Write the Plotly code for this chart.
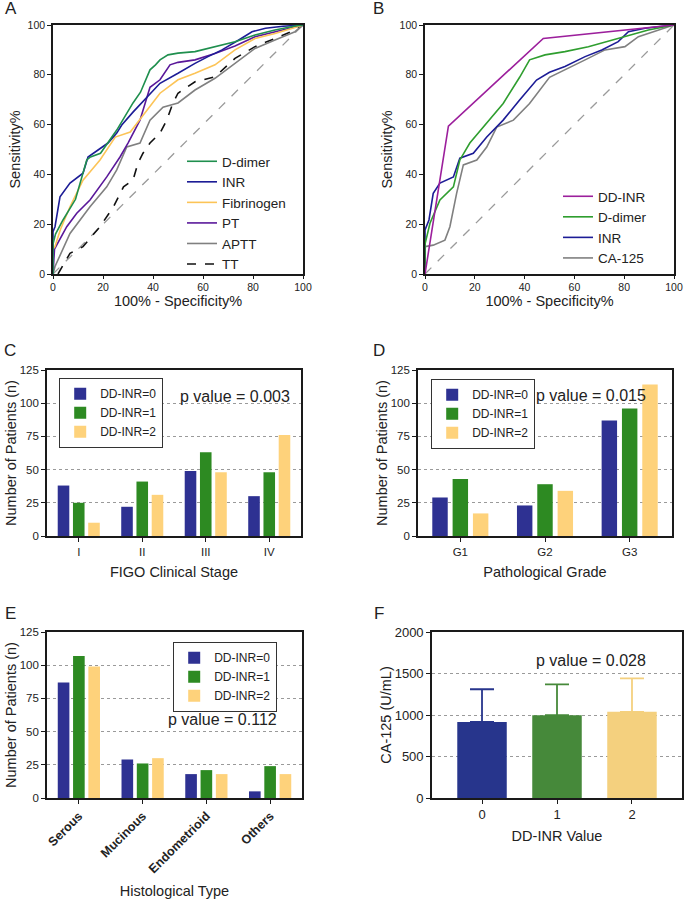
import plotly.graph_objects as go

W, H = 685, 899
FONT = "Arial, Liberation Sans, sans-serif"
TXT = "#222222"

def px(x):
    return x / W

def py(y):
    return 1 - y / H

# ---------------- Panel A: ROC curves ----------------
a_ddimer_x = [0, 0, 1, 4, 9, 13.5, 15, 19, 25.5, 32, 35, 37, 38.8, 41, 42.8, 46, 50, 56.8, 64.8, 72.8, 80.8, 88.8, 96.8, 100]
a_ddimer_y = [0, 12, 16, 21.7, 30, 45.8, 47, 48.5, 57.8, 68.7, 73, 78, 82, 84, 86, 88, 88.7, 89.3, 91.3, 93.3, 96, 98, 99.6, 100]
a_inr_x = [0, 0, 0.8, 2.8, 6.8, 12, 14, 22, 25.5, 27.5, 32, 37.5, 42.8, 50, 56.8, 62, 67.6, 74.3, 79.6, 85, 92, 100]
a_inr_y = [0, 17, 19, 31, 36.5, 40.5, 47, 52.6, 56.6, 59.8, 65, 71, 76.6, 80.6, 84.6, 87.3, 90, 94, 97.3, 98.7, 99.5, 100]
a_fib_x = [0, 0, 0.8, 3, 6.8, 12, 18.8, 24.9, 30.9, 37.5, 42.8, 50, 56.8, 64.8, 72.8, 80.8, 88.8, 96.8, 100]
a_fib_y = [0, 10, 11, 18, 27, 37.7, 45.8, 55, 57, 65.9, 72.6, 78, 80.6, 84, 90, 94.6, 96.6, 99, 100]
a_pt_x = [0, 0.6, 5.5, 9.5, 14.8, 21.5, 26.8, 30, 34.8, 38.8, 42.8, 46.8, 50, 56.8, 64.8, 72.8, 80.8, 88.8, 96.8, 100]
a_pt_y = [0, 10, 19, 24.4, 29.7, 39, 47, 52.6, 61.8, 75, 78, 84, 85, 86, 88.6, 91.6, 95.3, 97.3, 99, 100]
a_aptt_x = [0, 0.8, 6.8, 14.8, 21.5, 25.5, 29.5, 34.8, 38.8, 44, 50, 56.8, 64.8, 72.8, 80.8, 88.8, 96.8, 100]
a_aptt_y = [0, 3, 16.3, 27, 35, 41.8, 51, 52.6, 61.8, 67, 68.7, 73.9, 78.6, 84.6, 90.6, 94, 97.3, 100]
a_tt_x = [2, 6.8, 12, 18.8, 24.2, 28.2, 32, 34, 36, 38.8, 42.8, 45.5, 48, 50, 56.8, 64.8, 72.8, 80.8, 88.8, 96.8, 100]
a_tt_y = [0, 8.3, 11, 19, 27, 35, 37.7, 44.5, 48.5, 52.6, 56.6, 61.8, 68.7, 72.6, 77.2, 79.2, 86.6, 91.3, 94.6, 98, 100]

# ---------------- Panel B: ROC curves ----------------
b_ddinr_x = [0, 9.4, 47.5, 100]
b_ddinr_y = [0, 59.4, 94.6, 100]
b_ddimer_x = [0, 0, 2, 6, 11.4, 14, 18, 24.8, 31.4, 38, 42, 48.2, 56.2, 65.6, 75, 83, 89.7, 100]
b_ddimer_y = [0, 12, 20.4, 29.7, 35, 45.8, 52.6, 60.5, 68.5, 79, 86, 88, 89.3, 91.3, 94, 96, 98, 100]
b_inr_x = [0, 0, 1.6, 3.3, 6, 11.4, 14, 19.4, 24.8, 31.4, 38, 44.8, 50, 56.2, 64.3, 71, 77.6, 81.7, 88.4, 100]
b_inr_y = [0, 17.7, 21.7, 32.4, 36.5, 39, 46.5, 48.5, 55, 61.8, 69.9, 77.9, 81, 83.3, 87.3, 90, 93.3, 97.3, 98.7, 100]
b_ca125_x = [0, 0, 3.3, 8, 10, 12.7, 15.4, 20.8, 24.8, 28.8, 35.5, 42, 50, 56.2, 64.3, 72.3, 80.3, 85.7, 93.7, 100]
b_ca125_y = [0, 11, 11.6, 13.6, 19, 32.4, 43.8, 45.8, 51, 59, 61.8, 68.5, 79, 81.9, 86, 90, 91.3, 95.3, 98, 100]

ref_line = [0, 100]
roc_ticks = [0, 20, 40, 60, 80, 100]

# ---------------- Bar panels ----------------
group_names = ["DD-INR=0", "DD-INR=1", "DD-INR=2"]

c_categories = ["I", "II", "III", "IV"]
c_ddinr0 = [38, 22, 49, 30]
c_ddinr1 = [25, 41, 63, 48]
c_ddinr2 = [10, 31, 48, 76]

d_categories = ["G1", "G2", "G3"]
d_ddinr0 = [29, 23, 87]
d_ddinr1 = [43, 39, 96]
d_ddinr2 = [17, 34, 114]

e_categories = ["Serous", "Mucinous", "Endometrioid", "Others"]
e_ddinr0 = [87, 29, 18, 5]
e_ddinr1 = [107, 26, 21, 24]
e_ddinr2 = [99, 30, 18, 18]

count_ticks = [0, 25, 50, 75, 100, 125]

f_categories = ["0", "1", "2"]
f_means = [917, 998, 1038]
f_sd_upper = [393, 370, 403]
f_ticks = [0, 500, 1000, 1500, 2000]

p_values = ["p value = 0.003", "p value = 0.015", "p value = 0.112", "p value = 0.028"]

bar_colors = ["#2e3192", "#2d8a22", "#fed27b"]
f_colors = ["#27358c", "#46893a", "#f4d07e"]

fig = go.Figure()

# diagonal references
fig.add_trace(go.Scatter(x=ref_line, y=ref_line, mode="lines", xaxis="x", yaxis="y",
                         line=dict(color="#9a9a9a", width=1.3, dash="dash"), showlegend=False, hoverinfo="skip"))
fig.add_trace(go.Scatter(x=ref_line, y=ref_line, mode="lines", xaxis="x2", yaxis="y2",
                         line=dict(color="#9a9a9a", width=1.3, dash="dash"), showlegend=False, hoverinfo="skip"))

a_series = [
    ("TT", a_tt_x, a_tt_y, "#111111", "dash"),
    ("APTT", a_aptt_x, a_aptt_y, "#808080", "solid"),
    ("PT", a_pt_x, a_pt_y, "#5a189a", "solid"),
    ("Fibrinogen", a_fib_x, a_fib_y, "#fcc457", "solid"),
    ("INR", a_inr_x, a_inr_y, "#1c1c96", "solid"),
    ("D-dimer", a_ddimer_x, a_ddimer_y, "#1f8f4e", "solid"),
]
a_rank = {"D-dimer": 1, "INR": 2, "Fibrinogen": 3, "PT": 4, "APTT": 5, "TT": 6}
for name, xs, ys, col, dash in a_series:
    fig.add_trace(go.Scatter(x=xs, y=ys, mode="lines", name=name, xaxis="x", yaxis="y",
                             line=dict(color=col, width=1.6, dash=dash),
                             legend="legend", legendrank=a_rank[name]))

b_series = [
    ("CA-125", b_ca125_x, b_ca125_y, "#808080"),
    ("INR", b_inr_x, b_inr_y, "#1c1c96"),
    ("D-dimer", b_ddimer_x, b_ddimer_y, "#2f9e2f"),
    ("DD-INR", b_ddinr_x, b_ddinr_y, "#9c1f9c"),
]
b_rank = {"DD-INR": 1, "D-dimer": 2, "INR": 3, "CA-125": 4}
for name, xs, ys, col in b_series:
    fig.add_trace(go.Scatter(x=xs, y=ys, mode="lines", name=name, xaxis="x2", yaxis="y2",
                             line=dict(color=col, width=1.6),
                             legend="legend2", legendrank=b_rank[name]))

for cats, series, ax, lg in [
    (c_categories, [c_ddinr0, c_ddinr1, c_ddinr2], "3", "legend3"),
    (d_categories, [d_ddinr0, d_ddinr1, d_ddinr2], "4", "legend4"),
    (e_categories, [e_ddinr0, e_ddinr1, e_ddinr2], "5", "legend5"),
]:
    for name, vals, col in zip(group_names, series, bar_colors):
        fig.add_trace(go.Bar(x=cats, y=vals, name=name, marker=dict(color=col, line=dict(width=0)),
                             xaxis="x" + ax, yaxis="y" + ax, legend=lg))

# panel F: one trace per bar so each error bar takes its bar's colour
for i in range(len(f_categories)):
    fig.add_trace(go.Bar(x=[f_categories[i]], y=[f_means[i]], offsetgroup="f",
                         marker=dict(color=f_colors[i], line=dict(width=0)),
                         width=0.66, xaxis="x6", yaxis="y6", showlegend=False,
                         error_y=dict(type="data", symmetric=False, array=[f_sd_upper[i]],
                                      arrayminus=[0], color=f_colors[i], thickness=1.8, width=12)))

def axis(domain, anchor, size, **kw):
    d = dict(domain=domain, anchor=anchor, showline=True, linecolor="#1a1a1a", linewidth=1.6,
             mirror=True, ticks="outside", ticklen=4, tickwidth=1.2, tickcolor="#1a1a1a",
             zeroline=False, showgrid=False, automargin=False,
             tickfont=dict(family=FONT, size=size, color=TXT))
    d.update(kw)
    return d

title_font = dict(family=FONT, size=14.5, color=TXT)
grid = dict(showgrid=True, gridcolor="#9a9a9a", gridwidth=1, griddash="dot")

ya = [py(274), py(25)]
yc = [py(536), py(370)]
ye = [py(798), py(632)]

fig.update_layout(
    width=W, height=H, margin=dict(l=0, r=0, t=0, b=0),
    paper_bgcolor="white", plot_bgcolor="white",
    font=dict(family=FONT, color=TXT),
    barmode="group", bargap=0.28, bargroupgap=0.24,
    xaxis=axis([px(53), px(303)], "y", 10.5, range=[0, 100], tickvals=roc_ticks, ticklen=3,
               title=dict(text="100% - Specificity%", font=title_font, standoff=0)),
    yaxis=axis(ya, "x", 10.5, range=[0, 100], tickvals=roc_ticks,
               title=dict(text="Sensitivity%", font=title_font, standoff=3)),
    xaxis2=axis([px(425), px(674)], "y2", 10.5, range=[0, 100], tickvals=roc_ticks, ticklen=3,
                title=dict(text="100% - Specificity%", font=title_font, standoff=0)),
    yaxis2=axis(ya, "x2", 10.5, range=[0, 100], tickvals=roc_ticks,
                title=dict(text="Sensitivity%", font=title_font, standoff=3)),
    xaxis3=axis([px(47), px(301)], "y3", 11.5, range=[-0.5, 3.5],
                title=dict(text="FIGO Clinical Stage", font=title_font, standoff=10)),
    yaxis3=axis(yc, "x3", 11.5, range=[0, 125], tickvals=count_ticks, **grid,
                title=dict(text="Number of Patients (n)", font=title_font, standoff=0)),
    xaxis4=axis([px(418), px(672)], "y4", 11.5, range=[-0.5, 2.5],
                title=dict(text="Pathological Grade", font=title_font, standoff=10)),
    yaxis4=axis(yc, "x4", 11.5, range=[0, 125], tickvals=count_ticks, **grid,
                title=dict(text="Number of Patients (n)", font=title_font, standoff=0)),
    xaxis5=axis([px(47), px(302)], "y5", 11.5, range=[-0.5, 3.5], tickangle=-45,
                tickfont=dict(family=FONT, size=12.5, color=TXT, weight="bold"),
                title=dict(text="Histological Type", font=title_font, standoff=11)),
    yaxis5=axis(ye, "x5", 11.5, range=[0, 125], tickvals=count_ticks, **grid,
                title=dict(text="Number of Patients (n)", font=title_font, standoff=0)),
    xaxis6=axis([px(432), px(682)], "y6", 13, range=[-0.667, 2.667],
                title=dict(text="DD-INR Value", font=title_font, standoff=9)),
    yaxis6=axis(ye, "x6", 13, range=[0, 2000], tickvals=f_ticks, **grid,
                title=dict(text="CA-125 (U/mL)", font=title_font, standoff=0)),
    legend=dict(x=px(182), y=py(146), xanchor="left", yanchor="top", bgcolor="rgba(0,0,0,0)",
                font=dict(family=FONT, size=13.5, color=TXT), tracegroupgap=0),
    legend2=dict(x=px(558), y=py(181), xanchor="left", yanchor="top", bgcolor="rgba(0,0,0,0)",
                 font=dict(family=FONT, size=13.5, color=TXT), tracegroupgap=0),
    legend3=dict(x=px(59), y=py(378), xanchor="left", yanchor="top", bgcolor="white",
                 bordercolor="#333333", borderwidth=1.2,
                 font=dict(family=FONT, size=12, color=TXT), tracegroupgap=0),
    legend4=dict(x=px(431), y=py(379), xanchor="left", yanchor="top", bgcolor="white",
                 bordercolor="#333333", borderwidth=1.2,
                 font=dict(family=FONT, size=12, color=TXT), tracegroupgap=0),
    legend5=dict(x=px(173), y=py(642), xanchor="left", yanchor="top", bgcolor="white",
                 bordercolor="#333333", borderwidth=1.2,
                 font=dict(family=FONT, size=12, color=TXT), tracegroupgap=0),
)

letters = [("A", 11, 9), ("B", 379, 9), ("C", 10, 350), ("D", 379, 350), ("E", 10, 613), ("F", 379, 613)]
for t, x0, y0 in letters:
    fig.add_annotation(text=t, x=px(x0), y=py(y0), xref="paper", yref="paper", showarrow=False,
                       font=dict(family=FONT, size=17, color=TXT), xanchor="center", yanchor="middle")

p_pos = [(235, 396), (591, 395), (222, 719), (591, 660)]
for t, (x0, y0) in zip(p_values, p_pos):
    fig.add_annotation(text=t, x=px(x0), y=py(y0), xref="paper", yref="paper", showarrow=False,
                       font=dict(family=FONT, size=16, color=TXT), xanchor="center", yanchor="middle")

fig.write_html("out.html", config={"displayModeBar": False},
               post_script="document.body.style.margin='0';document.body.style.overflow='hidden';")
